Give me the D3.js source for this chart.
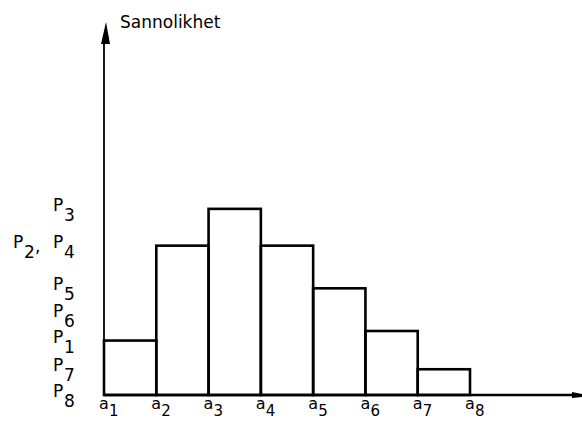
<!DOCTYPE html>
<html>
<head>
<meta charset="utf-8">
<script src="https://cdn.jsdelivr.net/npm/d3@7/dist/d3.min.js"></script>
<style>
  html, body { margin: 0; padding: 0; background: #fff; overflow: hidden; }
  svg { display: block; }
  text { font-family: 'DejaVu Sans', sans-serif; fill: #000; }
</style>
</head>
<body>
<svg id="mainsvg" width="582" height="425"></svg>
<script>
// outcomes a1..a8 and their probabilities P1..P8
const outcomes = ['1', '2', '3', '4', '5', '6', '7', '8'];
const probs = [0.074, 0.203, 0.253, 0.203, 0.145, 0.087, 0.035, 0];
const yAxisLabel = 'Sannolikhet';
const yMax = 0.507;

const svg = d3.select('#mainsvg');
const width = +svg.attr('width');
const height = +svg.attr('height');
const margin = { top: 22, right: 0, bottom: 30, left: 104 };
const innerWidth = width - margin.left - margin.right;
const innerHeight = height - margin.top - margin.bottom;

// scales in page coordinates
const xScale = d3.scaleLinear().domain([0, 7]).range([margin.left, margin.left + 366]);
const yScale = d3.scaleLinear().domain([0, yMax]).range([height - margin.bottom, margin.top]);
const x0 = xScale(0), y0 = yScale(0);

// bars (a_i .. a_i+1, height P_i)
const data = probs.map((p, i) => ({ i: i, p: p }));
svg.selectAll('.bar').data(data.filter(d => d.p > 0)).join('rect')
    .attr('class', 'bar')
    .attr('x', d => xScale(d.i))
    .attr('width', d => xScale(d.i + 1) - xScale(d.i))
    .attr('y', d => yScale(d.p))
    .attr('height', d => y0 - yScale(d.p))
    .attr('fill', 'none')
    .attr('stroke', '#000')
    .attr('stroke-width', 2.6);

// axes with arrow heads
svg.append('line')
    .attr('x1', x0).attr('y1', y0)
    .attr('x2', x0).attr('y2', margin.top + 18)
    .attr('stroke', '#000').attr('stroke-width', 1.8);
svg.append('path')
    .attr('d', `M${x0 + 2},${margin.top} L${x0 - 3},${margin.top + 22} L${x0 + 6},${margin.top + 22} Z`)
    .attr('fill', '#000');
svg.append('line')
    .attr('x1', x0).attr('y1', y0)
    .attr('x2', width - 6).attr('y2', y0)
    .attr('stroke', '#000').attr('stroke-width', 2.4);
svg.append('path')
    .attr('d', `M${width - 10},${y0 - 3} L${width},${y0 - 1} L${width},${y0 + 2} L${width - 10},${y0 + 3} Z`)
    .attr('fill', '#000');

// axis title
svg.append('text')
    .attr('x', x0 + 16)
    .attr('y', margin.top + 6)
    .attr('font-size', '17px')
    .text(yAxisLabel);

// x labels a_i (letter + lowered index)
svg.selectAll('.xlab').data(outcomes).join('text')
    .attr('class', 'xlab')
    .attr('x', (d, i) => xScale(i) - 5)
    .attr('y', y0 + 14)
    .attr('font-size', '16px')
    .text('a');
svg.selectAll('.xsub').data(outcomes).join('text')
    .attr('class', 'xsub')
    .attr('x', (d, i) => xScale(i) + 5)
    .attr('y', y0 + 21)
    .attr('font-size', '15px')
    .text(d => d);

// y labels: probabilities with equal value share one line
const groups = Array.from(d3.group(data, d => d.p), ([p, items]) => ({ p: p, names: items.map(d => outcomes[d.i]) }))
    .sort((a, b) => a.p - b.p);
let lastY = Infinity;
groups.forEach(d => {
    d.y = Math.min(yScale(d.p) + 2, lastY - 26);
    lastY = d.y;
});
const yItems = [];
groups.forEach(d => {
    d.names.slice().reverse().forEach((n, k) => {
        yItems.push({ x: x0 - 51 - k * 40, y: d.y, name: n, comma: k > 0 });
    });
});
svg.selectAll('.ylab').data(yItems).join('text')
    .attr('class', 'ylab')
    .attr('x', d => d.x)
    .attr('y', d => d.y)
    .attr('font-size', '17px')
    .text('P');
svg.selectAll('.ysub').data(yItems).join('text')
    .attr('class', 'ysub')
    .attr('x', d => d.x + 11)
    .attr('y', d => d.y + 10)
    .attr('font-size', '17px')
    .text(d => d.name);
svg.selectAll('.ycomma').data(yItems.filter(d => d.comma)).join('text')
    .attr('class', 'ycomma')
    .attr('x', d => d.x + 22)
    .attr('y', d => d.y + 4)
    .attr('font-size', '17px')
    .text(',');
</script>
</body>
</html>
